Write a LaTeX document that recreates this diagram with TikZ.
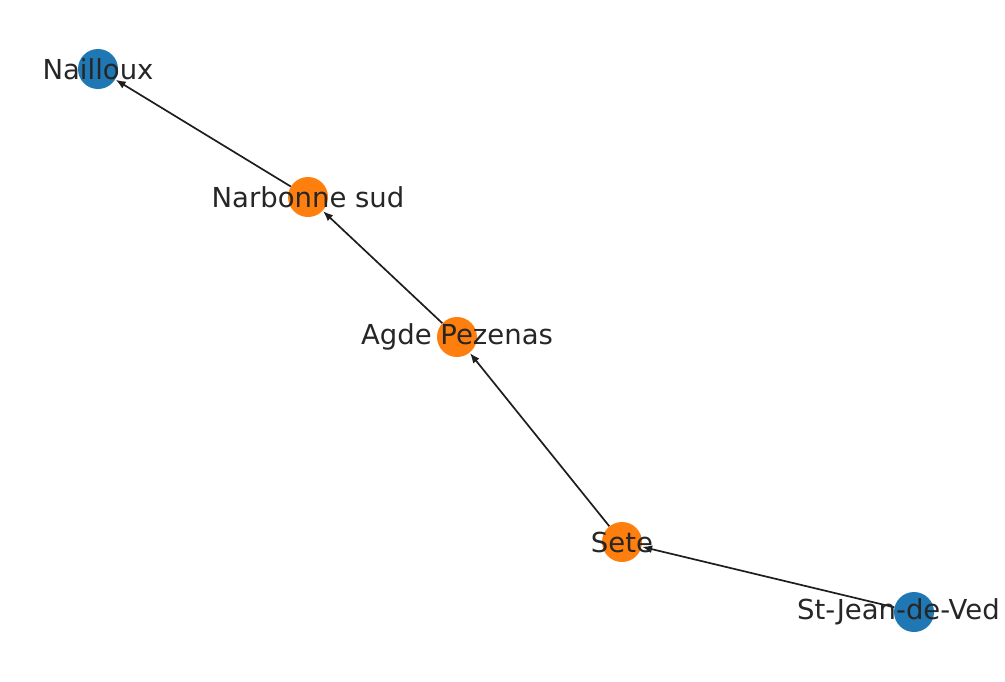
\documentclass[tikz,border=0pt]{standalone}
\usepackage{fontspec}
\setmainfont{DejaVu Sans}
\usepackage{xcolor}
\usetikzlibrary{arrows.meta, backgrounds}
\definecolor{tabblue}{RGB}{31,119,180}
\definecolor{taborange}{RGB}{255,127,14}
\definecolor{edgegray}{RGB}{30,30,30}

\begin{document}
\begin{tikzpicture}[
  x=1pt, y=-1pt,
  stop/.style={circle, draw=none, minimum size=40pt, inner sep=0pt},
  endstop/.style={stop, fill=tabblue},
  midstop/.style={stop, fill=taborange},
  name lbl/.style={label={[font=\fontsize{27.5}{32}\selectfont, text=black!85]center:#1}},
  arr/.style={-{Latex[length=10pt, width=8pt]}, draw=edgegray, line width=1.7pt, shorten >=0.5pt}
]
\useasboundingbox (0,0) rectangle (1005,681);
\clip (0,0) rectangle (999,681);
\node[endstop, name lbl=Nailloux] (nailloux) at (98,69) {};
\node[midstop, name lbl=Narbonne sud] (narbonne) at (308,197) {};
\node[midstop, name lbl=Agde Pezenas] (agde) at (457,337) {};
\node[midstop, name lbl=Sete] (sete) at (622,542) {};
\node[endstop, name lbl=St-Jean-de-Vedas] (stjean) at (914,612) {};
\begin{scope}[on background layer]
  \draw[arr] (stjean) -- (sete);
  \draw[arr] (sete) -- (agde);
  \draw[arr] (agde) -- (narbonne);
  \draw[arr] (narbonne) -- (nailloux);
\end{scope}
\end{tikzpicture}
\end{document}
